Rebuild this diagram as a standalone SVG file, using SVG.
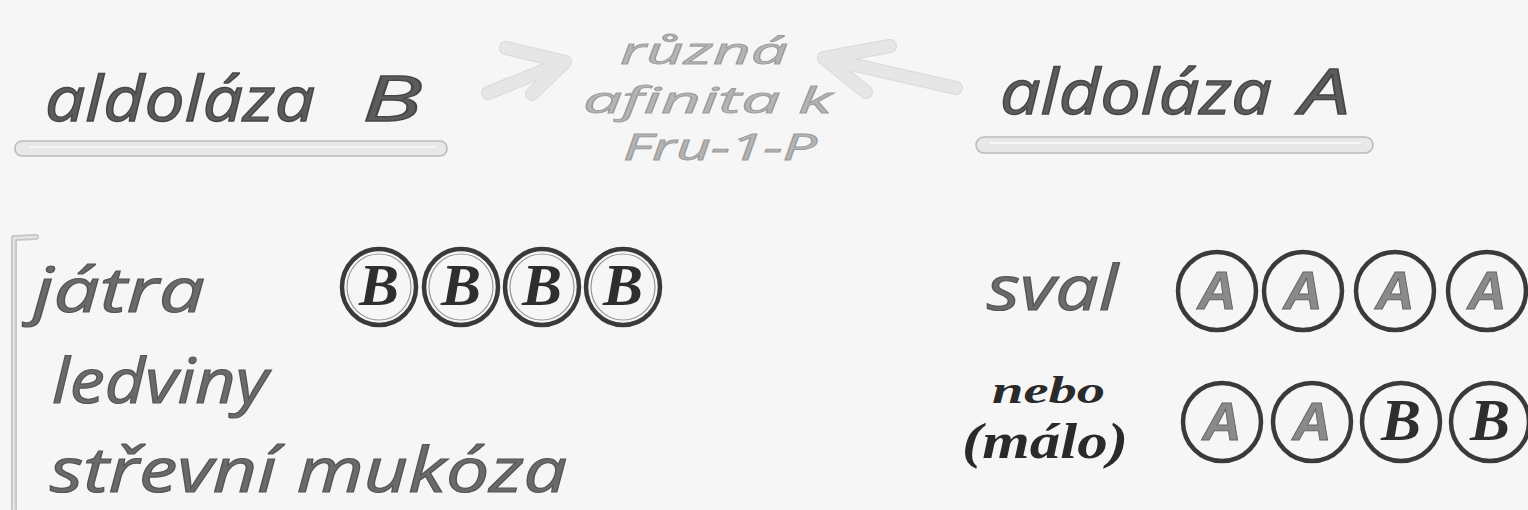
<svg xmlns="http://www.w3.org/2000/svg" width="1528" height="510" viewBox="0 0 1528 510">
  <defs>
    <style>
      .hand { font-family: "Open Sans", "Noto Sans", "DejaVu Sans", sans-serif; font-style: italic; }
      .head { font-size: 62px; fill: #5c5c5c; stroke: #474747; stroke-width: 1.4; }
      .list { font-size: 62px; fill: #6a6a6a; stroke: #555; stroke-width: 1.2; }
      .note { font-size: 36px; fill: #b4b4b4; stroke: #9c9c9c; stroke-width: 0.9; }
      .bar { fill: #e8e8e8; stroke: #bcbcbc; stroke-width: 1.6; }
      .bar-hi { stroke: #f6f6f6; stroke-width: 2; stroke-linecap: round; }
      .ring { fill: none; stroke: #3a3a3a; stroke-width: 4.5; }
      .ring-in { fill: none; stroke: #9a9a9a; stroke-width: 1.2; }
      .letA { font-family: "Liberation Sans", Arial, sans-serif; font-style: italic; font-weight: bold; font-size: 54px; fill: #8a8a8a; stroke: #666; stroke-width: 1; text-anchor: middle; }
      .letB { font-family: "Liberation Serif", "Times New Roman", serif; font-style: italic; font-weight: bold; font-size: 60px; fill: #2e2e2e; text-anchor: middle; }
      .script { font-family: "Liberation Serif", "Times New Roman", serif; font-style: italic; font-weight: bold; fill: #2a2a2a; }
      .arrow { fill: none; stroke: #e6e6e6; stroke-width: 12; stroke-linecap: round; stroke-linejoin: round; }
      .arrow-edge { fill: none; stroke: #d9d9d9; stroke-width: 14; stroke-linecap: round; stroke-linejoin: round; }
    </style>
  </defs>

  <rect x="0" y="0" width="1528" height="510" fill="#f6f6f6"/>

  <!-- heading: aldoláza B -->
  <g id="aldolaza-b">
    <text class="hand head" x="45" y="121" textLength="270" lengthAdjust="spacingAndGlyphs">aldoláza</text>
    <text class="hand head" x="362" y="121" font-size="68" textLength="60" lengthAdjust="spacingAndGlyphs">B</text>
    <rect class="bar" x="15" y="141" width="432" height="15" rx="7"/>
    <line class="bar-hi" x1="30" y1="147" x2="435" y2="147"/>
  </g>

  <!-- heading: aldoláza A -->
  <g id="aldolaza-a">
    <text class="hand head" x="1000" y="114" textLength="272" lengthAdjust="spacingAndGlyphs">aldoláza</text>
    <text class="hand head" x="1300" y="114" textLength="50" lengthAdjust="spacingAndGlyphs">A</text>
    <rect class="bar" x="976" y="137" width="397" height="16" rx="8"/>
    <line class="bar-hi" x1="990" y1="143" x2="1360" y2="143"/>
  </g>

  <!-- middle note -->
  <g id="affinity-note">
    <text class="hand note" x="620" y="64" textLength="168" lengthAdjust="spacingAndGlyphs">různá</text>
    <text class="hand note" x="583" y="113" textLength="249" lengthAdjust="spacingAndGlyphs">afinita k</text>
    <text class="hand note" x="623" y="160" textLength="194" lengthAdjust="spacingAndGlyphs">Fru-1-P</text>
  </g>

  <!-- arrows pointing at the note -->
  <g id="connectors">
    <g id="arrow-left">
      <path class="arrow-edge" d="M 488 93 L 565 62 M 506 48 L 565 62 L 532 94"/>
      <path class="arrow" d="M 488 93 L 565 62 M 506 48 L 565 62 L 532 94"/>
    </g>
    <g id="arrow-right">
      <path class="arrow-edge" d="M 956 88 L 824 58 M 890 46 L 824 58 L 866 92"/>
      <path class="arrow" d="M 956 88 L 824 58 M 890 46 L 824 58 L 866 92"/>
    </g>
  </g>

  <!-- bracket grouping the B tissues -->
  <g id="bracket">
    <path d="M 14 510 L 14 238 L 36 237" fill="none" stroke="#c6c6c6" stroke-width="6" stroke-linecap="round" stroke-linejoin="round"/>
    <path d="M 14 510 L 14 238 L 36 237" fill="none" stroke="#e4e4e4" stroke-width="2.5" stroke-dasharray="2 2" stroke-linecap="round"/>
  </g>

  <!-- tissues with aldolase B -->
  <g id="tissue-list">
    <text class="hand list" x="33" y="312" textLength="172" lengthAdjust="spacingAndGlyphs">játra</text>
    <text class="hand list" x="52" y="403" textLength="216" lengthAdjust="spacingAndGlyphs">ledviny</text>
    <text class="hand list" x="50" y="492" textLength="517" lengthAdjust="spacingAndGlyphs">střevní mukóza</text>
  </g>

  <!-- tetramer B4 -->
  <g id="tetramer-b4">
    <ellipse class="ring" cx="379" cy="287" rx="37" ry="38"/>
    <ellipse class="ring" cx="461" cy="287" rx="37" ry="38"/>
    <ellipse class="ring" cx="542" cy="287" rx="37" ry="38"/>
    <ellipse class="ring" cx="623" cy="287" rx="37" ry="38"/>
    <ellipse class="ring-in" cx="379" cy="287" rx="32" ry="33"/>
    <ellipse class="ring-in" cx="461" cy="287" rx="32" ry="33"/>
    <ellipse class="ring-in" cx="542" cy="287" rx="32" ry="33"/>
    <ellipse class="ring-in" cx="623" cy="287" rx="32" ry="33"/>
    <text class="letB" x="379" y="305">B</text>
    <text class="letB" x="461" y="305">B</text>
    <text class="letB" x="542" y="305">B</text>
    <text class="letB" x="623" y="305">B</text>
  </g>

  <!-- muscle: tetramer A4 -->
  <g id="sval">
    <text class="hand list" x="987" y="310" textLength="131" lengthAdjust="spacingAndGlyphs" fill="#747474">sval</text>
  </g>
  <g id="tetramer-a4">
    <circle class="ring" cx="1217" cy="291" r="39"/>
    <circle class="ring" cx="1303" cy="291" r="39"/>
    <circle class="ring" cx="1395" cy="291" r="39"/>
    <circle class="ring" cx="1487" cy="291" r="39"/>
    <text class="letA" x="1217" y="309">A</text>
    <text class="letA" x="1303" y="309">A</text>
    <text class="letA" x="1395" y="309">A</text>
    <text class="letA" x="1487" y="309">A</text>
  </g>

  <!-- alternative: tetramer A2B2 -->
  <g id="nebo-malo">
    <text class="script" x="992" y="403" font-size="38" textLength="113" lengthAdjust="spacingAndGlyphs">nebo</text>
    <text class="script" x="962" y="458" font-size="50" textLength="166" lengthAdjust="spacingAndGlyphs">(málo)</text>
  </g>
  <g id="tetramer-a2b2">
    <circle class="ring" cx="1222" cy="422" r="39"/>
    <circle class="ring" cx="1312" cy="422" r="39"/>
    <circle class="ring" cx="1401" cy="422" r="39"/>
    <circle class="ring" cx="1490" cy="422" r="39"/>
    <text class="letA" x="1222" y="440">A</text>
    <text class="letA" x="1312" y="440">A</text>
    <text class="letB" x="1401" y="440" fill="#1e1e1e">B</text>
    <text class="letB" x="1490" y="440" fill="#1e1e1e">B</text>
  </g>
</svg>
